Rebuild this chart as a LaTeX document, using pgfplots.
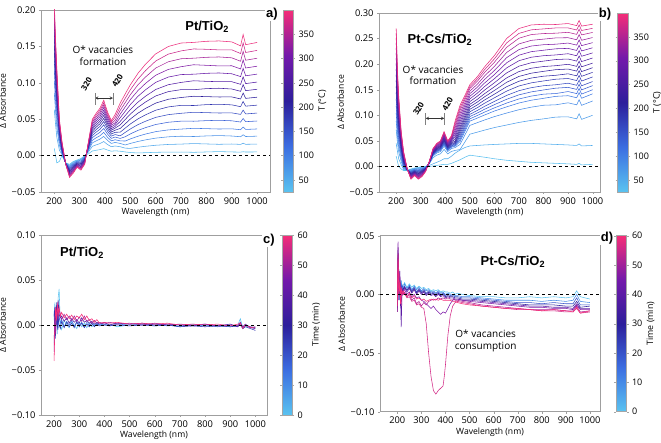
\documentclass[border=0pt]{standalone}
\usepackage{fontspec}
\setmainfont{Open Sans}
\newfontfamily\arialb{Liberation Sans}
\usepackage{pgfplots}
\usepackage{pgfplotstable}
\pgfplotsset{compat=1.18}
\pgfplotsset{
  colormap={tcm}{rgb255(0cm)=(90,195,240); rgb255(1cm)=(60,110,225); rgb255(2cm)=(45,30,155); rgb255(3cm)=(115,25,170); rgb255(4cm)=(245,45,120)},
  /pgf/number format/assume math mode=true,
  panel/.style={scale only axis, anchor=south west,
    axis line style={gray!75}, tick style={gray!75}, tick align=outside, major tick length=2pt,
    xtick pos=bottom, ytick pos=left,
    xtick={200,300,...,1000}, xticklabels={200,300,400,500,600,700,800,900,1000},
    ticklabel style={font=\fontsize{9.3}{10}\selectfont},
    label style={font=\fontsize{8.6}{10}\selectfont},
    xlabel={Wavelength (nm)}, ylabel={Δ Absorbance},
    xlabel style={yshift=3pt}, ylabel style={yshift=-1pt},
    colormap name=tcm, colorbar,
    colorbar style={at={(parent axis.north east)}, anchor=north west, width=10pt, scale only axis,
      axis line style={gray!70}, ytick style={gray!70}, tick align=outside, major tick length=2pt,
      yticklabel style={font=\fontsize{9}{10}\selectfont},
      ylabel style={font=\fontsize{8.8}{10}\selectfont, yshift=2.5pt}},
  },
  cv/.style={line width=0.55pt, no markers},
}
\newcommand\tfont{\arialb\bfseries\fontsize{13}{14}\selectfont}
\newcommand\afont{\fontsize{10}{11.5}\selectfont}

\pgfplotstableread{
x a0 a1 a2 a3 a4 a5 a6 a7 a8 a9 a10 a11 a12 a13 a14
200 0.010 0.063 0.086 0.103 0.117 0.130 0.141 0.151 0.161 0.170 0.179 0.187 0.195 0.203 0.210
205 0.000 0.043 0.060 0.074 0.086 0.096 0.105 0.113 0.121 0.128 0.135 0.142 0.148 0.154 0.160
210 -0.010 0.025 0.039 0.050 0.060 0.068 0.075 0.082 0.088 0.094 0.100 0.105 0.110 0.115 0.120
220 -0.008 0.0075 0.014 0.019 0.023 0.027 0.030 0.033 0.036 0.0385 0.041 0.043 0.0457 0.048 0.050
230 0.000 0.0014 0.0029 0.0043 0.0057 0.0071 0.0086 0.010 0.0114 0.0129 0.0143 0.0157 0.0171 0.0186 0.020
245 -0.010 -0.010 -0.010 -0.0104 -0.0106 -0.0107 -0.0109 -0.011 -0.0111 -0.0113 -0.0114 -0.0116 -0.0117 -0.0119 -0.012
260 -0.012 -0.0133 -0.0146 -0.0159 -0.0171 -0.0184 -0.0197 -0.021 -0.0223 -0.0236 -0.0249 -0.0261 -0.0274 -0.0287 -0.030
275 -0.008 -0.0091 -0.0103 -0.0114 -0.0126 -0.0137 -0.0149 -0.016 -0.0171 -0.0183 -0.0194 -0.0206 -0.0217 -0.0229 -0.024
290 -0.006 -0.0067 -0.0074 -0.0081 -0.0089 -0.0096 -0.0103 -0.011 -0.0117 -0.0124 -0.0131 -0.0139 -0.0146 -0.0153 -0.016
305 -0.004 -0.0051 -0.0063 -0.0074 -0.0086 -0.0097 -0.0109 -0.012 -0.0131 -0.0143 -0.0154 -0.0166 -0.0177 -0.0189 -0.020
320 0.000 -0.0009 -0.0017 -0.0026 -0.0034 -0.0043 -0.0051 -0.006 -0.0069 -0.0077 -0.0086 -0.0094 -0.0103 -0.0111 -0.012
335 0.0025 0.0051 0.0070 0.0084 0.0098 0.0111 0.0123 0.0134 0.0145 0.0154 0.0164 0.0174 0.0183 0.0191 0.020
350 0.0063 0.0127 0.0174 0.021 0.0246 0.0278 0.0308 0.0336 0.0363 0.0386 0.0411 0.0434 0.0457 0.0479 0.050
365 0.0073 0.0147 0.0202 0.0244 0.0285 0.0322 0.0357 0.039 0.042 0.0448 0.0476 0.0503 0.053 0.0555 0.058
380 0.0082 0.0165 0.0226 0.0273 0.0319 0.0361 0.040 0.0437 0.0471 0.0502 0.0534 0.0564 0.0593 0.0622 0.065
395 0.0096 0.0193 0.0264 0.0319 0.0373 0.0423 0.0468 0.0511 0.0551 0.0587 0.0624 0.066 0.0694 0.0727 0.076
410 0.0076 0.0152 0.0209 0.0252 0.0295 0.0334 0.037 0.0403 0.0435 0.0463 0.0493 0.0521 0.0548 0.0574 0.060
425 0.006 0.0122 0.0167 0.0202 0.0236 0.0267 0.0296 0.0323 0.0348 0.0371 0.0394 0.0417 0.0438 0.0459 0.048
440 0.0066 0.0132 0.0181 0.0218 0.0255 0.0289 0.032 0.0349 0.0377 0.0401 0.0427 0.0451 0.0486 0.0526 0.0565
460 0.006 0.0122 0.0167 0.0202 0.0236 0.0271 0.0322 0.0373 0.0423 0.0469 0.052 0.057 0.0621 0.0672 0.0722
480 0.005 0.0102 0.0146 0.020 0.0259 0.0319 0.0378 0.0437 0.0497 0.0551 0.061 0.067 0.0729 0.0788 0.0848
500 0.0042 0.0099 0.0167 0.0229 0.0298 0.0366 0.0434 0.0502 0.057 0.0632 0.0701 0.0769 0.0837 0.0905 0.0973
530 0.0036 0.0115 0.0194 0.0266 0.0346 0.0425 0.0504 0.0583 0.0662 0.0734 0.0814 0.0893 0.0972 0.1051 0.113
560 0.004 0.0128 0.0216 0.0296 0.0384 0.0472 0.056 0.0648 0.0736 0.0816 0.0904 0.0992 0.108 0.1168 0.1256
600 0.0045 0.0142 0.024 0.0329 0.0427 0.0525 0.0623 0.0721 0.0819 0.0908 0.1006 0.1104 0.1202 0.1299 0.1397
650 0.0048 0.0153 0.0258 0.0353 0.0458 0.0563 0.0669 0.0774 0.0879 0.0974 0.1079 0.1184 0.1289 0.1394 0.1499
700 0.0049 0.0158 0.0266 0.0364 0.0473 0.0581 0.069 0.0798 0.0906 0.1005 0.1113 0.1221 0.133 0.1438 0.1546
750 0.0045 0.0165 0.0262 0.0375 0.0472 0.0595 0.0688 0.0815 0.0905 0.1028 0.1118 0.1248 0.1338 0.1465 0.1555
800 0.005 0.016 0.027 0.037 0.048 0.059 0.070 0.081 0.092 0.102 0.113 0.124 0.135 0.146 0.157
850 0.0055 0.0155 0.0275 0.0365 0.0485 0.0585 0.0705 0.0805 0.0925 0.1015 0.1135 0.1232 0.1355 0.1452 0.1575
900 0.005 0.0159 0.0269 0.0368 0.0478 0.0587 0.0697 0.0806 0.0915 0.1015 0.1124 0.1234 0.1343 0.1453 0.1562
935 0.0048 0.0154 0.0259 0.0355 0.0461 0.0566 0.0672 0.0778 0.0883 0.0979 0.1085 0.119 0.1296 0.1402 0.1507
945 0.0053 0.017 0.0286 0.0392 0.0509 0.0625 0.0742 0.0859 0.0975 0.1081 0.1198 0.1314 0.1431 0.1548 0.1664
955 0.0049 0.0155 0.0262 0.0359 0.0466 0.0572 0.0679 0.0786 0.0892 0.0989 0.1096 0.1203 0.131 0.1416 0.1523
1000 0.005 0.0158 0.0267 0.0366 0.0475 0.0584 0.0693 0.0802 0.0911 0.101 0.1119 0.1228 0.1337 0.1445 0.1554
}\tabA

\pgfplotstableread{
x b0 b1 b2 b3 b4 b5 b6 b7 b8 b9 b10 b11 b12 b13 b14 b15 b16 b17 b18 b19
200 0.020 0.045 0.0718 0.0888 0.104 0.1183 0.1315 0.1443 0.1565 0.1683 0.1795 0.1905 0.2013 0.2118 0.2218 0.232 0.2418 0.2513 0.2608 0.27
205 0.010 0.030 0.0473 0.0595 0.0705 0.0807 0.0903 0.0995 0.1083 0.1167 0.1248 0.1328 0.1405 0.1481 0.1553 0.1626 0.1697 0.1765 0.1833 0.19
210 0.000 0.015 0.029 0.0385 0.047 0.055 0.0624 0.0696 0.0764 0.083 0.0893 0.0955 0.1015 0.1074 0.113 0.1187 0.1242 0.1295 0.1348 0.14
220 -0.005 0.004 0.0105 0.0156 0.0202 0.0245 0.0285 0.0323 0.036 0.0395 0.0429 0.0462 0.0494 0.0525 0.0555 0.0586 0.0615 0.0644 0.0672 0.070
230 -0.008 -0.006 -0.004 -0.002 0.000 0.002 0.004 0.006 0.008 0.010 0.012 0.014 0.016 0.018 0.020 0.022 0.024 0.026 0.028 0.030
245 -0.008 -0.007 -0.0077 -0.0075 -0.0074 -0.0072 -0.0071 -0.0069 -0.0067 -0.0066 -0.0064 -0.0063 -0.0061 -0.0059 -0.0058 -0.0056 -0.0055 -0.0053 -0.0052 -0.005
260 -0.005 -0.006 -0.0071 -0.0082 -0.0092 -0.0103 -0.0113 -0.0124 -0.0134 -0.0145 -0.0155 -0.0166 -0.0176 -0.0187 -0.0197 -0.0208 -0.0218 -0.0229 -0.0239 -0.025
275 -0.003 -0.004 -0.0046 -0.0054 -0.0062 -0.0069 -0.0077 -0.0085 -0.0093 -0.0101 -0.0109 -0.0117 -0.0125 -0.0133 -0.0141 -0.0148 -0.0156 -0.0164 -0.0172 -0.018
290 -0.002 -0.003 -0.0044 -0.0056 -0.0068 -0.0081 -0.0093 -0.0105 -0.0117 -0.0129 -0.0141 -0.0153 -0.0165 -0.0177 -0.0189 -0.0202 -0.0214 -0.0226 -0.0238 -0.025
305 0.000 -0.001 -0.0021 -0.0032 -0.0042 -0.0053 -0.0063 -0.0074 -0.0084 -0.0095 -0.0105 -0.0116 -0.0126 -0.0137 -0.0147 -0.0158 -0.0168 -0.0179 -0.0189 -0.020
320 0.000 0.000 -0.0011 -0.0016 -0.0021 -0.0026 -0.0032 -0.0037 -0.0042 -0.0047 -0.0053 -0.0058 -0.0063 -0.0068 -0.0074 -0.0079 -0.0084 -0.0089 -0.0095 -0.010
335 0.000 0.002 0.0049 0.0058 0.0063 0.0065 0.0067 0.0070 0.0072 0.0075 0.0077 0.0080 0.0083 0.0085 0.0088 0.0091 0.0093 0.0096 0.0098 0.010
350 0.001 0.005 0.0171 0.0203 0.0219 0.0227 0.0236 0.0244 0.0253 0.0262 0.0271 0.028 0.0289 0.0299 0.0308 0.0317 0.0327 0.0336 0.0343 0.035
365 0.002 0.008 0.022 0.0261 0.0281 0.0292 0.0303 0.0314 0.0325 0.0337 0.0348 0.036 0.0372 0.0384 0.0396 0.0408 0.042 0.0432 0.0441 0.045
380 0.003 0.011 0.0245 0.0291 0.0313 0.0325 0.0337 0.0349 0.0362 0.0375 0.0387 0.040 0.0414 0.0427 0.0441 0.0454 0.0467 0.048 0.049 0.050
395 0.004 0.015 0.0333 0.0395 0.0425 0.0441 0.0458 0.0474 0.0492 0.0509 0.0526 0.0544 0.0562 0.0581 0.0599 0.0617 0.0635 0.0652 0.0666 0.068
410 0.004 0.015 0.0245 0.0291 0.0313 0.0325 0.0337 0.0349 0.0362 0.0375 0.0387 0.040 0.0414 0.0427 0.0441 0.0454 0.0467 0.048 0.049 0.050
425 0.006 0.020 0.0293 0.0349 0.0375 0.0389 0.0404 0.0418 0.0434 0.0449 0.0464 0.048 0.0496 0.0512 0.0529 0.0544 0.056 0.0575 0.0588 0.060
440 0.009 0.026 0.0313 0.0369 0.0395 0.0409 0.0424 0.0438 0.0454 0.0469 0.0495 0.0532 0.0574 0.0616 0.0661 0.0706 0.0753 0.0801 0.0845 0.0890
460 0.013 0.032 0.033 0.0430 0.0485 0.0521 0.0559 0.0597 0.0639 0.0683 0.0728 0.0773 0.0824 0.0876 0.0929 0.0984 0.1039 0.1096 0.1145 0.1195
480 0.018 0.037 0.048 0.0616 0.0685 0.0725 0.0766 0.0807 0.0852 0.0898 0.0945 0.0991 0.1043 0.1094 0.1146 0.1199 0.1251 0.1304 0.1347 0.139
500 0.022 0.040 0.063 0.0802 0.0885 0.0930 0.0975 0.1019 0.1069 0.1117 0.1166 0.1214 0.1267 0.1320 0.1372 0.1423 0.1473 0.1524 0.1561 0.1599
530 0.020 0.041 0.067 0.0855 0.0945 0.0995 0.1044 0.1093 0.1148 0.1202 0.1257 0.1311 0.1371 0.1430 0.1489 0.1547 0.1605 0.1663 0.1707 0.1751
560 0.018 0.042 0.071 0.0908 0.1006 0.1062 0.1118 0.1174 0.1236 0.1299 0.1361 0.1423 0.1493 0.1562 0.1631 0.1700 0.1769 0.1837 0.1892 0.1946
600 0.015 0.043 0.076 0.0974 0.1083 0.1145 0.1208 0.1271 0.1342 0.1413 0.1485 0.1557 0.1636 0.1716 0.1796 0.1876 0.1957 0.2037 0.2103 0.2168
650 0.012 0.044 0.081 0.1044 0.1165 0.1239 0.1313 0.1389 0.1473 0.1559 0.1645 0.1732 0.1829 0.1927 0.2027 0.2127 0.2228 0.2330 0.2416 0.2502
700 0.010 0.045 0.086 0.1109 0.1240 0.1319 0.1400 0.1481 0.1573 0.1666 0.1760 0.1855 0.1960 0.2067 0.2175 0.2285 0.2396 0.2507 0.2601 0.2697
750 0.008 0.045 0.090 0.1159 0.1294 0.1375 0.1457 0.1540 0.1634 0.1728 0.1823 0.1920 0.2027 0.2135 0.2244 0.2354 0.2465 0.2578 0.2671 0.2766
800 0.007 0.044 0.093 0.1196 0.1332 0.1413 0.1495 0.1578 0.1671 0.1764 0.1859 0.1953 0.2059 0.2165 0.2272 0.2380 0.2489 0.2598 0.2689 0.278
850 0.006 0.043 0.0965 0.1205 0.137 0.1425 0.153 0.1597 0.1705 0.1782 0.1892 0.1970 0.2090 0.2180 0.2300 0.2390 0.2513 0.2605 0.2708 0.2775
900 0.005 0.042 0.097 0.1244 0.1383 0.1464 0.1546 0.1627 0.1719 0.1811 0.1904 0.1997 0.2100 0.2204 0.2308 0.2412 0.2517 0.2622 0.2708 0.2794
935 0.004 0.041 0.093 0.1204 0.1343 0.1424 0.1506 0.1587 0.1679 0.1771 0.1864 0.1957 0.2060 0.2164 0.2268 0.2372 0.2477 0.2582 0.2668 0.2754
945 0.006 0.044 0.103 0.1304 0.1443 0.1524 0.1606 0.1687 0.1779 0.1871 0.1964 0.2057 0.2160 0.2264 0.2368 0.2472 0.2577 0.2682 0.2768 0.2854
955 0.003 0.040 0.092 0.1194 0.1333 0.1414 0.1496 0.1577 0.1669 0.1761 0.1854 0.1947 0.2050 0.2154 0.2258 0.2362 0.2467 0.2572 0.2658 0.2744
1000 0.004 0.041 0.100 0.128 0.142 0.150 0.158 0.166 0.175 0.184 0.193 0.202 0.212 0.222 0.232 0.242 0.252 0.262 0.270 0.278
}\tabB

\newcommand\pa[2]{\addplot[cv, color of colormap=#2] table[x=x,y=#1]{\tabA};}
\newcommand\pb[2]{\addplot[cv, color of colormap=#2] table[x=x,y=#1]{\tabB};}

\begin{document}
\begin{tikzpicture}
\path[use as bounding box] (0pt,0pt) rectangle (661pt,443pt);

% ---------- panel a ----------
\begin{axis}[panel, at={(41pt,251pt)}, width=229pt, height=182pt,
  xmin=147.5, xmax=1051, ymin=-0.05, ymax=0.20,
  ytick={-0.05,0,0.05,0.10,0.15,0.20}, yticklabels={−0.05,0.00,0.05,0.10,0.15,0.20},
  point meta min=25, point meta max=400,
  colorbar style={xshift=4.5pt, ytick={50,100,...,350}, ylabel={T (°C)}}]
\pa{a0}{13}\pa{a1}{83}\pa{a2}{152}\pa{a3}{221}\pa{a4}{291}\pa{a5}{360}\pa{a6}{429}\pa{a7}{499}
\pa{a8}{568}\pa{a9}{637}\pa{a10}{707}\pa{a11}{776}\pa{a12}{845}\pa{a13}{915}\pa{a14}{984}
\addplot[black, dashed, line width=0.6pt] coordinates {(147.5,0) (1051,0)};
\node[font=\tfont] at (axis cs:803,0.177) {Pt/TiO\textsubscript{2}};
\node[font=\afont, align=center, inner sep=0pt] at (axis cs:392,0.137) {O* vacancies\\formation};
\node[font=\bfseries\fontsize{8}{9}\selectfont, rotate=60] at (axis cs:327,0.098) {320};
\node[font=\bfseries\fontsize{8}{9}\selectfont, rotate=60] at (axis cs:449,0.103) {420};
\draw[<->, >=stealth, line width=0.5pt, black!80] (axis cs:360.6,0.079) -- (axis cs:431.7,0.079);
\draw[gray, line width=0.4pt] (axis cs:360.6,0.0695) -- (axis cs:360.6,0.086);
\draw[gray, line width=0.4pt] (axis cs:431.7,0.0695) -- (axis cs:431.7,0.086);
\end{axis}

% ---------- panel b ----------
\begin{axis}[panel, at={(379pt,251pt)}, width=221pt, height=179pt,
  xmin=130, xmax=1030, ymin=-0.05, ymax=0.30,
  ytick={-0.05,0,0.05,0.10,0.15,0.20,0.25,0.30}, yticklabels={−0.05,0.00,0.05,0.10,0.15,0.20,0.25,0.30},
  point meta min=25, point meta max=400,
  colorbar style={xshift=9pt, width=10.5pt, ytick={50,100,...,350}, ylabel={T (°C)}}]
\pb{b0}{13}\pb{b1}{64}\pb{b2}{115}\pb{b3}{165}\pb{b4}{216}\pb{b5}{267}\pb{b6}{317}\pb{b7}{368}
\pb{b8}{419}\pb{b9}{469}\pb{b10}{520}\pb{b11}{571}\pb{b12}{621}\pb{b13}{672}\pb{b14}{723}
\pb{b15}{773}\pb{b16}{824}\pb{b17}{875}\pb{b18}{925}\pb{b19}{976}
\addplot[black, dashed, line width=0.6pt] coordinates {(130,0) (1030,0)};
\node[font=\tfont] at (axis cs:378,0.247) {Pt-Cs/TiO\textsubscript{2}};
\node[font=\afont, align=center, inner sep=0pt] at (axis cs:350,0.178) {O* vacancies\\formation};
\node[font=\bfseries\fontsize{8}{9}\selectfont, rotate=60] at (axis cs:291,0.113) {320};
\node[font=\bfseries\fontsize{8}{9}\selectfont, rotate=60] at (axis cs:409,0.121) {420};
\draw[<->, >=stealth, line width=0.5pt, black!80] (axis cs:320,0.094) -- (axis cs:396,0.094);
\draw[gray, line width=0.4pt] (axis cs:320,0.081) -- (axis cs:320,0.1045);
\draw[gray, line width=0.4pt] (axis cs:396,0.081) -- (axis cs:396,0.1045);
\end{axis}

% ---------- panel c ----------
\begin{axis}[panel, at={(41pt,28pt)}, width=226pt, height=180pt,
  xmin=148, xmax=1046, ymin=-0.10, ymax=0.10,
  ytick={-0.10,-0.05,0,0.05,0.10}, yticklabels={−0.10,−0.05,0.00,0.05,0.10},
  point meta min=0, point meta max=60,
  colorbar style={xshift=6.5pt, ytick={0,10,...,60}, ylabel={Time (min)}}]
\addplot[cv, color of colormap=0] coordinates {(200,0.005)(203,0.025)(206,0.01)(210,0.02)(213,-0.01)(216,0.03)(220,0.04)(225,0)(230,-0.005)(240,0.005)(250,0)(260,-0.003)(270,0.004)(280,0)(290,-0.004)(300,0.003)(310,-0.002)(320,0.002)(330,-0.003)(340,0.002)(350,-0.002)(360,0.001)(370,-0.001)(380,0.001)(400,0)(420,0.001)(450,-0.002)(500,0)(550,0.001)(600,-0.001)(650,0)(700,-0.002)(750,0.001)(800,-0.001)(850,0)(900,-0.002)(930,0)(940,0.007)(950,-0.003)(960,0)(980,-0.002)(1000,-0.003)};
\addplot[cv, color of colormap=200] coordinates {(200,0.015)(203,-0.01)(206,0.02)(210,0)(213,0.015)(216,-0.005)(220,0.01)(225,0.002)(230,0.006)(240,-0.002)(250,0.004)(260,0)(270,0.005)(280,-0.002)(290,0.004)(300,0)(310,0.003)(320,-0.002)(330,0.003)(340,0)(350,0.002)(360,-0.001)(370,0.002)(380,0)(400,0.001)(420,-0.001)(450,0.001)(500,0)(550,0)(600,0.001)(650,-0.001)(700,0)(750,-0.001)(800,0)(850,-0.002)(900,0)(930,-0.002)(940,0.003)(950,-0.004)(960,-0.001)(980,-0.003)(1000,-0.002)};
\addplot[cv, color of colormap=420] coordinates {(200,0.01)(203,0.02)(206,-0.015)(210,0.025)(213,-0.005)(216,0.01)(220,0)(225,-0.004)(230,0.004)(240,-0.003)(250,0.003)(260,-0.002)(270,0.002)(280,-0.003)(290,0.003)(300,-0.002)(310,0.002)(320,-0.003)(330,0.001)(340,-0.002)(350,0.002)(360,-0.002)(370,0.001)(380,-0.001)(400,0)(420,-0.001)(450,0)(500,-0.001)(550,0)(600,-0.001)(650,0)(700,-0.002)(750,-0.001)(800,-0.002)(850,-0.001)(900,-0.002)(930,-0.001)(940,0)(950,-0.004)(960,-0.002)(980,-0.004)(1000,-0.006)};
\addplot[cv, color of colormap=620] coordinates {(200,-0.02)(203,0.015)(206,0.005)(210,0.02)(213,0.01)(216,0.028)(220,0.012)(225,0.008)(230,0.01)(240,0.004)(250,0.008)(260,0.002)(270,0.007)(280,0.003)(290,0.006)(300,0.002)(310,0.008)(320,0.003)(330,0.005)(340,0.002)(350,0.004)(360,0.001)(370,0.003)(380,0.001)(400,0.003)(420,0)(450,0.002)(500,0.001)(550,0.002)(600,0)(650,0.001)(700,0)(750,-0.001)(800,0.001)(850,-0.001)(900,0.001)(930,-0.002)(940,0.002)(950,-0.002)(960,0.001)(980,-0.003)(1000,-0.004)};
\addplot[cv, color of colormap=820] coordinates {(200,-0.03)(203,0.01)(206,-0.01)(210,0.015)(213,0.02)(216,0.005)(220,0.018)(225,0.012)(230,0.006)(240,0.012)(250,0.006)(260,0.01)(270,0.005)(280,0.01)(290,0.004)(300,0.009)(310,0.004)(320,0.01)(330,0.004)(340,0.006)(350,0.002)(360,0.005)(370,0.002)(380,0.003)(400,0.001)(420,0.003)(450,0.001)(500,0.002)(550,0)(600,0.002)(650,0)(700,0.001)(750,0)(800,0.001)(850,-0.001)(900,0)(930,-0.001)(940,0.003)(950,-0.003)(960,0)(980,-0.002)(1000,-0.003)};
\addplot[cv, color of colormap=1000] coordinates {(200,-0.04)(203,-0.005)(206,0.02)(210,0.005)(213,0.025)(216,0.01)(220,0.02)(225,0.01)(230,0.014)(240,0.008)(250,0.012)(260,0.007)(270,0.011)(280,0.006)(290,0.01)(300,0.008)(310,0.012)(320,0.006)(330,0.01)(340,0.005)(350,0.007)(360,0.003)(370,0.006)(380,0.002)(400,0.003)(420,0.002)(450,0.003)(500,0.001)(550,0.002)(600,0.001)(650,0.002)(700,0)(750,0.001)(800,0)(850,0.001)(900,-0.001)(930,0.001)(940,0.002)(950,-0.004)(960,0)(980,-0.003)(1000,-0.002)};
\addplot[black, dashed, line width=0.6pt] coordinates {(148,0) (1046,0)};
\node[font=\tfont] at (axis cs:311,0.080) {Pt/TiO\textsubscript{2}};
\end{axis}

% ---------- panel d ----------
\begin{axis}[panel, at={(380pt,31.3pt)}, width=220pt, height=176pt,
  xmin=128, xmax=1042, ymin=-0.10, ymax=0.05,
  ytick={-0.10,-0.05,0,0.05}, yticklabels={−0.10,−0.05,0.00,0.05},
  point meta min=0, point meta max=60,
  colorbar style={xshift=7.5pt, width=10.5pt, ytick={0,10,...,60}, ylabel={Time (min)}}]
\addplot[cv, color of colormap=0] coordinates {(200,0)(203,0.03)(206,0.01)(210,0.015)(213,0.002)(216,0.01)(220,0.005)(225,0.008)(230,0.01)(240,0.006)(250,0.009)(260,0.006)(270,0.008)(280,0.005)(290,0.007)(300,0.005)(310,0.006)(320,0.004)(330,0.005)(340,0.003)(350,0.004)(360,0.003)(370,0.004)(380,0.002)(390,0.003)(400,0.002)(410,0.002)(420,0.001)(430,0.002)(440,0)(450,0.001)(470,0)(500,-0.001)(550,-0.002)(600,-0.002)(650,-0.003)(700,-0.003)(750,-0.002)(800,-0.003)(850,-0.002)(900,-0.003)(930,-0.002)(945,0.003)(960,-0.002)(1000,-0.004)};
\addplot[cv, color of colormap=167] coordinates {(200,-0.01)(203,0.035)(206,0.015)(210,0.02)(213,0)(216,0.012)(220,0.003)(225,0.006)(230,0.009)(240,0.005)(250,0.008)(260,0.004)(270,0.007)(280,0.004)(290,0.006)(300,0.003)(310,0.005)(320,0.003)(330,0.004)(340,0.002)(350,0.003)(360,0.001)(370,0.003)(380,0.001)(390,0.002)(400,0)(410,0.001)(420,0)(430,0)(440,-0.001)(450,-0.001)(470,-0.002)(500,-0.002)(550,-0.003)(600,-0.004)(650,-0.005)(700,-0.005)(750,-0.005)(800,-0.006)(850,-0.005)(900,-0.006)(930,-0.005)(945,0)(960,-0.006)(1000,-0.007)};
\addplot[cv, color of colormap=333] coordinates {(200,-0.012)(203,0.04)(206,0.02)(210,-0.005)(213,0.01)(216,0.005)(220,0.008)(225,0.004)(230,0.007)(240,0.003)(250,0.007)(260,0.003)(270,0.006)(280,0.002)(290,0.005)(300,0.002)(310,0.004)(320,0.001)(330,0.003)(340,0.001)(350,0.002)(360,0)(370,0.002)(380,0)(390,0.001)(400,-0.001)(410,0)(420,-0.001)(430,-0.001)(440,-0.002)(450,-0.002)(470,-0.003)(500,-0.003)(550,-0.004)(600,-0.005)(650,-0.006)(700,-0.007)(750,-0.007)(800,-0.008)(850,-0.007)(900,-0.008)(930,-0.008)(945,-0.003)(960,-0.009)(1000,-0.009)};
\addplot[cv, color of colormap=500] coordinates {(200,-0.015)(203,0.03)(206,0.008)(210,0.012)(213,-0.01)(216,0.006)(220,0)(225,0.005)(230,0.006)(240,0.004)(250,0.006)(260,0.002)(270,0.005)(280,0.001)(290,0.004)(300,0.001)(310,0.003)(320,0)(330,0.002)(340,0)(350,0.001)(360,-0.001)(370,0.001)(380,-0.001)(390,0)(400,-0.002)(410,-0.001)(420,-0.002)(430,-0.002)(440,-0.003)(450,-0.003)(470,-0.004)(500,-0.004)(550,-0.005)(600,-0.006)(650,-0.007)(700,-0.008)(750,-0.009)(800,-0.009)(850,-0.009)(900,-0.01)(930,-0.01)(945,-0.006)(960,-0.011)(1000,-0.01)};
\addplot[cv, color of colormap=667] coordinates {(200,-0.01)(203,0.02)(206,-0.005)(210,0.01)(213,0)(216,-0.028)(220,0.005)(225,0.002)(230,0.006)(240,0.002)(250,0.005)(260,0.001)(270,0.004)(280,0)(290,0.003)(300,0)(310,0.002)(320,-0.001)(330,0.001)(340,-0.001)(350,0)(360,-0.002)(370,0)(380,-0.002)(390,-0.001)(400,-0.003)(410,-0.002)(420,-0.003)(430,-0.003)(440,-0.004)(450,-0.004)(470,-0.005)(500,-0.005)(550,-0.006)(600,-0.007)(650,-0.008)(700,-0.009)(750,-0.01)(800,-0.01)(850,-0.011)(900,-0.011)(930,-0.012)(945,-0.008)(960,-0.012)(1000,-0.012)};
\addplot[cv, color of colormap=767] coordinates {(200,0.01)(203,0.045)(206,0)(210,0.015)(213,-0.005)(216,0.005)(220,0)(225,0.003)(230,0.004)(240,0)(250,0.002)(260,-0.002)(270,0)(280,-0.003)(290,-0.002)(300,-0.005)(310,-0.006)(320,-0.008)(330,-0.01)(340,-0.012)(350,-0.01)(360,-0.013)(370,-0.015)(380,-0.017)(390,-0.015)(400,-0.016)(410,-0.012)(420,-0.008)(430,-0.005)(440,-0.004)(450,-0.004)(470,-0.005)(500,-0.006)(550,-0.007)(600,-0.008)(650,-0.009)(700,-0.01)(750,-0.011)(800,-0.011)(850,-0.012)(900,-0.012)(930,-0.013)(945,-0.009)(960,-0.013)(1000,-0.013)};
\addplot[cv, color of colormap=867] coordinates {(200,-0.015)(203,0.04)(206,0.01)(210,0.02)(213,0.005)(216,-0.01)(220,0.003)(225,0)(230,0.002)(240,-0.002)(250,0)(260,-0.005)(270,-0.003)(280,-0.008)(290,-0.006)(300,-0.01)(310,-0.007)(320,-0.009)(330,-0.006)(340,-0.005)(350,-0.004)(360,-0.005)(370,-0.003)(380,-0.004)(390,-0.003)(400,-0.004)(410,-0.003)(420,-0.004)(430,-0.004)(440,-0.005)(450,-0.005)(470,-0.006)(500,-0.007)(550,-0.009)(600,-0.01)(650,-0.011)(700,-0.012)(750,-0.013)(800,-0.013)(850,-0.013)(900,-0.014)(930,-0.014)(945,-0.01)(960,-0.015)(1000,-0.014)};
\addplot[cv, color of colormap=933] coordinates {(200,0)(203,0.035)(206,0.005)(210,0.012)(213,-0.005)(216,0)(220,0.002)(225,0)(230,0.001)(240,-0.003)(250,-0.002)(260,-0.006)(270,-0.005)(280,-0.009)(290,-0.008)(300,-0.011)(310,-0.012)(320,-0.025)(330,-0.05)(340,-0.07)(350,-0.082)(360,-0.085)(370,-0.082)(380,-0.08)(390,-0.078)(395,-0.07)(400,-0.06)(410,-0.035)(420,-0.018)(430,-0.01)(440,-0.007)(450,-0.006)(470,-0.007)(500,-0.008)(550,-0.01)(600,-0.011)(650,-0.012)(700,-0.013)(750,-0.013)(800,-0.014)(850,-0.014)(900,-0.015)(930,-0.015)(945,-0.012)(960,-0.016)(1000,-0.015)};
\addplot[cv, color of colormap=1000] coordinates {(200,-0.01)(203,0.03)(206,0)(210,0.01)(213,-0.008)(216,0.006)(220,0)(225,0.003)(230,0)(240,-0.002)(250,0.001)(260,-0.003)(270,-0.001)(280,-0.004)(290,-0.003)(300,-0.005)(310,-0.004)(320,-0.006)(330,-0.005)(340,-0.004)(350,-0.005)(360,-0.004)(370,-0.005)(380,-0.004)(390,-0.005)(400,-0.005)(410,-0.005)(420,-0.005)(430,-0.006)(440,-0.006)(450,-0.007)(470,-0.008)(500,-0.009)(550,-0.01)(600,-0.011)(650,-0.012)(700,-0.012)(750,-0.013)(800,-0.014)(850,-0.013)(900,-0.014)(930,-0.015)(945,-0.011)(960,-0.016)(1000,-0.014)};
\addplot[black, dashed, line width=0.6pt] coordinates {(128,0) (1042,0)};
\node[font=\tfont] at (axis cs:680,0.0276) {Pt-Cs/TiO\textsubscript{2}};
\node[font=\afont, align=center, inner sep=0pt] at (axis cs:567,-0.0397) {O* vacancies\\consumption};
\end{axis}

\node[font=\tfont, fill=white, inner sep=1pt] at (272pt,429pt) {a)};
\node[font=\tfont, fill=white, inner sep=1pt] at (605pt,429pt) {b)};
\node[font=\tfont, fill=white, inner sep=1pt] at (269pt,203pt) {c)};
\node[font=\tfont, fill=white, inner sep=1pt] at (607pt,205pt) {d)};
\end{tikzpicture}
\end{document}
